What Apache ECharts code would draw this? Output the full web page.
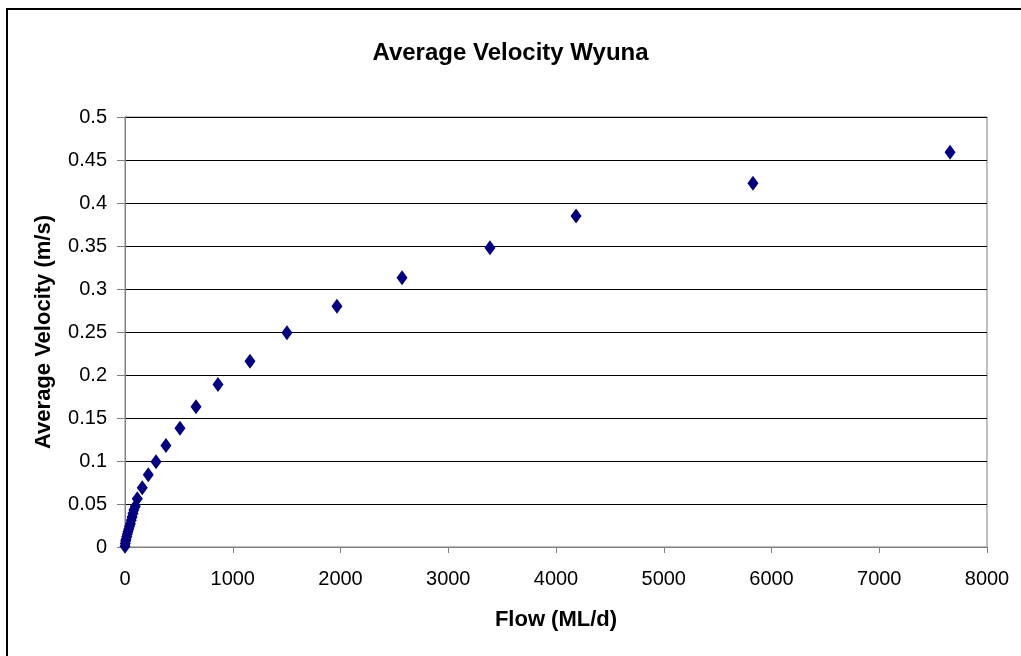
<!DOCTYPE html>
<html>
<head>
<meta charset="utf-8">
<script src="https://cdn.jsdelivr.net/npm/echarts@6/dist/echarts.min.js"></script>
<style>
html, body { margin: 0; padding: 0; background: #fff; }
#chart { width: 1021px; height: 656px; }
</style>
</head>
<body>
<div id="chart"></div>
<script>
var flow = [0, 3, 6, 10, 16, 22, 28, 35, 42, 50, 58, 66, 74, 82, 95, 114, 160, 216, 288, 380, 510, 659, 863, 1160, 1503, 1967, 2571, 3387, 4186, 5828, 7657];
var velocity = [0.001, 0.004, 0.007, 0.009, 0.012, 0.015, 0.018, 0.021, 0.024, 0.027, 0.031, 0.035, 0.039, 0.043, 0.047, 0.056, 0.069, 0.084, 0.099, 0.118, 0.138, 0.163, 0.189, 0.216, 0.249, 0.280, 0.313, 0.348, 0.385, 0.423, 0.459];

var points = flow.map(function(f, i) {
	return [f, velocity[i]];
});

var myChart = echarts.init(document.getElementById('chart'));
var option = {
	backgroundColor: '#fff',
	animation: false,
	title: {
		text: 'Average Velocity Wyuna',
		left: 'center',
		top: 36,
		textStyle: {
			fontFamily: 'Liberation Sans',
			fontSize: 24,
			fontWeight: 'bold',
			color: '#000'
		}
	},
	graphic: [{
		type: 'rect',
		shape: { x: 7, y: 9, width: 1100, height: 700 },
		style: { fill: 'none', stroke: '#000', lineWidth: 2 },
		silent: true
	}],
	grid: {
		left: 125,
		right: 34,
		top: 117,
		bottom: 109,
		show: true,
		borderColor: '#808080',
		borderWidth: 1
	},
	xAxis: {
		type: 'value',
		min: 0,
		max: 8000,
		interval: 1000,
		name: 'Flow (ML/d)',
		nameLocation: 'middle',
		nameGap: 62,
		nameTextStyle: {
			fontFamily: 'Liberation Sans',
			fontSize: 22,
			fontWeight: 'bold',
			color: '#000'
		},
		axisLine: { show: true, lineStyle: { color: '#808080' } },
		axisTick: { show: true, inside: false, length: 6, lineStyle: { color: '#808080' } },
		axisLabel: {
			margin: 22,
			fontFamily: 'Liberation Sans',
			fontSize: 20,
			color: '#000',
			formatter: function(v) {
				return String(v);
			}
		},
		splitLine: { show: false }
	},
	yAxis: {
		type: 'value',
		min: 0,
		max: 0.5,
		interval: 0.05,
		name: 'Average Velocity (m/s)',
		nameLocation: 'middle',
		nameGap: 70,
		nameTextStyle: {
			fontFamily: 'Liberation Sans',
			fontSize: 22,
			fontWeight: 'bold',
			color: '#000'
		},
		axisLine: { show: true, lineStyle: { color: '#808080' } },
		axisTick: { show: true, inside: false, length: 8, lineStyle: { color: '#808080' } },
		axisLabel: {
			margin: 18,
			fontFamily: 'Liberation Sans',
			fontSize: 20,
			color: '#000',
			formatter: function(v) {
				return String(Math.round(v * 100) / 100);
			}
		},
		splitLine: { show: true, lineStyle: { color: '#000', width: 1 } }
	},
	series: [{
		name: 'Average Velocity',
		type: 'scatter',
		symbol: 'diamond',
		symbolSize: [11, 15],
		itemStyle: { color: '#000080', opacity: 1 },
		data: points
	}]
};
myChart.setOption(option);
</script>
</body>
</html>
